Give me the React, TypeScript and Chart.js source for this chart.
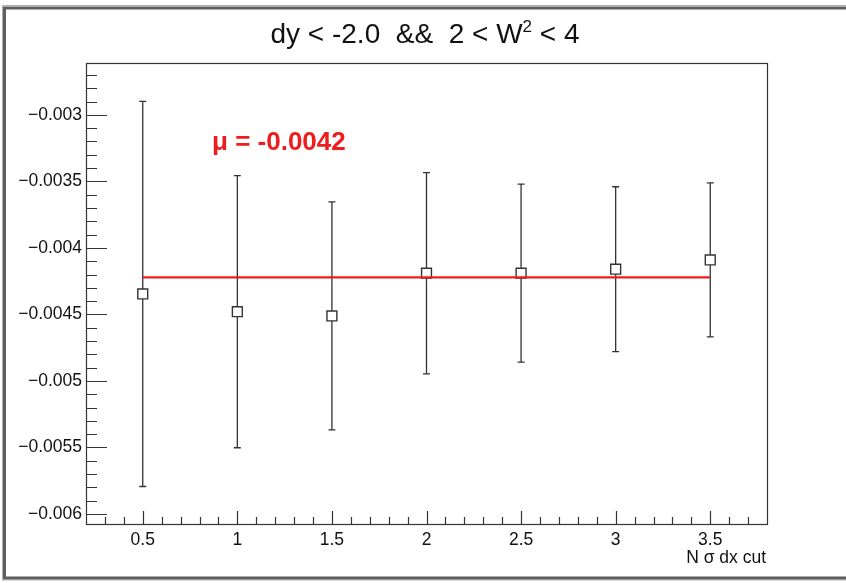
import React, { useEffect, useRef } from "react";
import { Chart, registerables } from "chart.js";

Chart.register(...registerables);

// ---- data ----
const xValues = [0.5, 1, 1.5, 2, 2.5, 3, 3.5];
const yValues = [-0.004346, -0.004479, -0.004511, -0.00419, -0.00419, -0.00416, -0.00409];
const yErrors = [0.001447, 0.001023, 0.000857, 0.000756, 0.000669, 0.00062, 0.000579];
const fitMean = -0.004222;
const fitRange = [0.5, 3.5];
const xMajorTicks = [0.5, 1, 1.5, 2, 2.5, 3, 3.5];
const yMajorTicks = [-0.006, -0.0055, -0.005, -0.0045, -0.004, -0.0035, -0.003];
const titleParts = ["dy < -2.0  &&  2 < W", "2", " < 4"];
const fitLabel = "\u03bc = -0.0042";
const xAxisTitle = "N \u03c3 dx cut";

const FONT = '"Liberation Sans", Arial, Helvetica, sans-serif';

const rootPlugin = {
  id: "rootStyle",
  beforeDraw(chart: any) {
    const ctx = chart.ctx;
    ctx.save();
    ctx.fillStyle = "#ffffff";
    ctx.fillRect(0, 0, chart.width, chart.height);
    // canvas bevel border
    ctx.strokeStyle = "#b0b0b0";
    ctx.lineWidth = 1;
    ctx.strokeRect(2.5, 5.5, 900, 574.5);
    ctx.strokeStyle = "#5e5e5e";
    ctx.lineWidth = 3;
    ctx.strokeRect(4.5, 8, 900, 570);
    ctx.restore();
  },
  beforeDatasetsDraw(chart: any) {
    const ctx = chart.ctx;
    const xs = chart.scales.x;
    const ys = chart.scales.y;
    ctx.save();
    ctx.strokeStyle = "#333333";
    ctx.lineWidth = 1.3;
    for (let i = 0; i < xValues.length; i++) {
      const px = xs.getPixelForValue(xValues[i]);
      const pTop = ys.getPixelForValue(yValues[i] + yErrors[i]);
      const pBot = ys.getPixelForValue(yValues[i] - yErrors[i]);
      ctx.beginPath();
      ctx.moveTo(px, pTop);
      ctx.lineTo(px, pBot);
      ctx.moveTo(px - 3.5, pTop);
      ctx.lineTo(px + 3.5, pTop);
      ctx.moveTo(px - 3.5, pBot);
      ctx.lineTo(px + 3.5, pBot);
      ctx.stroke();
    }
    ctx.restore();
  },
  afterDraw(chart: any) {
    const ctx = chart.ctx;
    const xs = chart.scales.x;
    const ys = chart.scales.y;
    const a = chart.chartArea;
    ctx.save();
    // frame
    ctx.strokeStyle = "#333333";
    ctx.lineWidth = 1.2;
    ctx.strokeRect(a.left + 0.5, a.top + 0.5, a.right - a.left, a.bottom - a.top);
    // y ticks (inward)
    ctx.beginPath();
    for (let k = -61; k <= -26; k++) {
      const v = k * 0.0001;
      const py = Math.round(ys.getPixelForValue(v)) + 0.5;
      if (py < a.top || py > a.bottom) continue;
      const major = k % 5 === 0;
      ctx.moveTo(a.left, py);
      ctx.lineTo(a.left + (major ? 21 : 11), py);
    }
    // x ticks (inward)
    for (let k = 2; k <= 38; k++) {
      const v = k * 0.1;
      const px = Math.round(xs.getPixelForValue(v)) + 0.5;
      if (px <= a.left + 1 || px >= a.right - 1) continue;
      const major = k % 5 === 0;
      ctx.moveTo(px, a.bottom);
      ctx.lineTo(px, a.bottom - (major ? 13 : 7));
    }
    ctx.stroke();

    // title
    ctx.fillStyle = "#111111";
    ctx.textBaseline = "alphabetic";
    const big = "28px " + FONT;
    const small = "17px " + FONT;
    ctx.font = big;
    const w0 = ctx.measureText(titleParts[0]).width;
    const w2 = ctx.measureText(titleParts[2]).width;
    ctx.font = small;
    const w1 = ctx.measureText(titleParts[1]).width;
    const total = w0 + w1 + w2;
    let tx = 425 - total / 2;
    const baseY = 43;
    ctx.textAlign = "left";
    ctx.font = big;
    ctx.fillText(titleParts[0], tx, baseY);
    tx += w0;
    ctx.font = small;
    ctx.fillText(titleParts[1], tx, baseY - 11);
    tx += w1;
    ctx.font = big;
    ctx.fillText(titleParts[2], tx, baseY);

    // fit label
    ctx.fillStyle = "#ee1c1c";
    ctx.font = "bold 26px " + FONT;
    ctx.textAlign = "left";
    ctx.fillText(fitLabel, 212, 150);

    // x axis title
    ctx.fillStyle = "#111111";
    ctx.font = "17.5px " + FONT;
    ctx.textAlign = "right";
    ctx.fillText(xAxisTitle, a.right - 1, 563);
    ctx.restore();
  },
};

export default function App() {
  const ref = useRef<HTMLCanvasElement | null>(null);
  useEffect(() => {
    document.body.style.margin = "0";
    const canvas = ref.current;
    if (!canvas) return;
    const chart = new Chart(canvas, {
      type: "scatter",
      data: {
        datasets: [
          {
            type: "line",
            label: "fit",
            data: fitRange.map((x) => ({ x, y: fitMean })),
            borderColor: "#ee1c1c",
            borderWidth: 2.2,
            pointRadius: 0,
            fill: false,
            order: 0,
          } as any,
          {
            label: "points",
            data: xValues.map((x, i) => ({ x, y: yValues[i] })),
            pointStyle: "rect",
            pointRadius: 7,
            pointBackgroundColor: "#ffffff",
            pointBorderColor: "#333333",
            pointBorderWidth: 1.4,
            order: 1,
          },
        ],
      },
      options: {
        responsive: false,
        animation: false,
        events: [],
        layout: { padding: { left: 0, right: 79, top: 63, bottom: 0 } },
        plugins: {
          legend: { display: false },
          title: { display: false },
          tooltip: { enabled: false },
        },
        scales: {
          x: {
            type: "linear",
            min: 0.2,
            max: 3.8,
            grid: { display: false, drawTicks: false },
            border: { display: false },
            afterBuildTicks: (s: any) => {
              s.ticks = xMajorTicks.map((v) => ({ value: v }));
            },
            afterFit: (s: any) => {
              s.height = 59;
            },
            ticks: {
              padding: 6,
              maxRotation: 0,
              autoSkip: false,
              color: "#111111",
              font: { family: FONT, size: 17.5 },
              callback: (v: any) => String(v),
            },
          },
          y: {
            type: "linear",
            min: -0.006075,
            max: -0.00261,
            grid: { display: false, drawTicks: false },
            border: { display: false },
            afterBuildTicks: (s: any) => {
              s.ticks = yMajorTicks.map((v) => ({ value: v }));
            },
            afterFit: (s: any) => {
              s.width = 86;
            },
            ticks: {
              padding: 4,
              autoSkip: false,
              color: "#111111",
              font: { family: FONT, size: 17.5 },
              callback: (v: any) => String(v).replace("-", "\u2212"),
            },
          },
        },
      },
      plugins: [rootPlugin],
    });
    return () => chart.destroy();
  }, []);
  return <canvas ref={ref} width={846} height={583} style={{ display: "block" }} />;
}
